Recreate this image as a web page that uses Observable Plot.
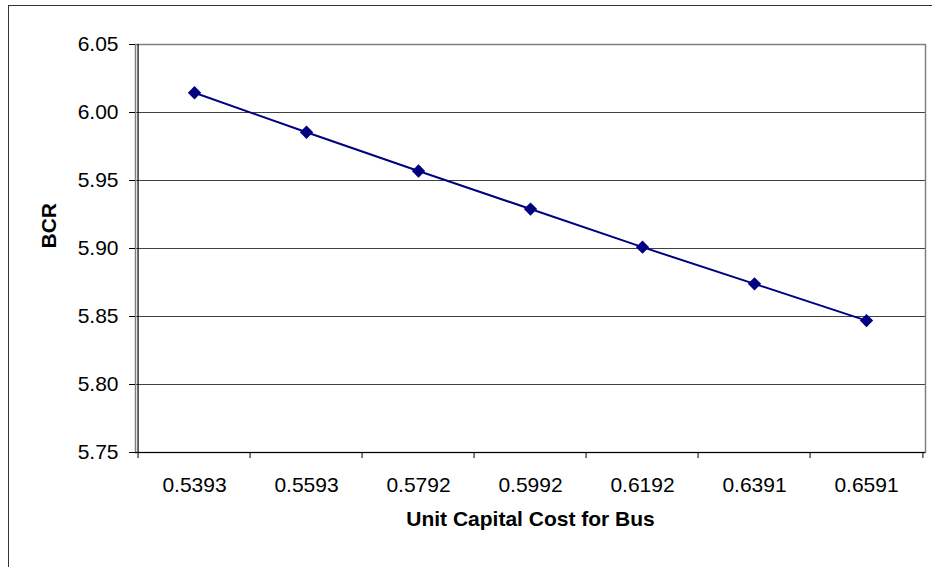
<!DOCTYPE html>
<html><head><meta charset="utf-8">
<script src="https://cdn.jsdelivr.net/npm/d3@7"></script>
<script src="https://cdn.jsdelivr.net/npm/@observablehq/plot@0.6"></script>
<style>
html,body{margin:0;padding:0;background:#fff;}
#wrap{position:relative;width:932px;height:567px;overflow:hidden;}
#border{position:absolute;left:8px;top:5px;width:1000px;height:700px;border:1.5px solid #333;box-sizing:border-box;}
#chart{position:absolute;left:0;top:0;}
</style></head><body>
<div id="wrap"><div id="border"></div><div id="chart"></div></div>
<script>
const categories = ["0.5393","0.5593","0.5792","0.5992","0.6192","0.6391","0.6591"];
const bcr = [6.0145, 5.9855, 5.957, 5.929, 5.901, 5.874, 5.847];
const yTicks = [5.75, 5.80, 5.85, 5.90, 5.95, 6.00, 6.05];
const xTitle = "Unit Capital Cost for Bus";
const yTitle = "BCR";

const data = categories.map((c, i) => ({cost: c, bcr: bcr[i]}));
const W = 932, H = 567, mL = 135, mR = 7, mT = 44, mB = 115;
const step = (W - mL - mR) / categories.length;
const font = "'Liberation Sans', Arial, sans-serif";

const plot = Plot.plot({
  width: W, height: H,
  marginLeft: mL, marginRight: mR, marginTop: mT, marginBottom: mB,
  style: {fontFamily: font, fontSize: "21px", color: "#000", background: "transparent", overflow: "visible"},
  x: {type: "band", domain: categories, padding: 0, align: 0.5},
  y: {domain: [yTicks[0], yTicks[yTicks.length - 1]]},
  marks: [
    Plot.ruleY(yTicks.slice(1, -1), {stroke: "#404040", strokeWidth: 1}),
    Plot.frame({stroke: "#808080", strokeWidth: 1.5}),
    Plot.ruleY([yTicks[0]], {stroke: "#000", strokeWidth: 1.2}),
    Plot.ruleX([categories[0]], {y1: yTicks[0], y2: yTicks[yTicks.length - 1], dx: -step / 2, stroke: "#000", strokeWidth: 1.2}),
    Plot.axisY(yTicks, {tickFormat: d3.format(".2f"), tickSize: 6, tickPadding: 11, stroke: "#000", label: null, fill: "#000"}),
    Plot.axisX(categories, {tickSize: 0, tickPadding: 25, label: null, fill: "#000"}),
    Plot.axisX(categories, {tickSize: 6, tickFormat: () => "", dx: -step / 2, label: null, stroke: "#000"}),
    Plot.axisX([categories[categories.length - 1]], {tickSize: 6, tickFormat: () => "", dx: step / 2, label: null, stroke: "#000"}),
    Plot.line(data, {x: "cost", y: "bcr", stroke: "#000080", strokeWidth: 2}),
    Plot.dot(data, {x: "cost", y: "bcr", symbol: "diamond2", r: 6, fill: "#000080", stroke: "none"}),
    Plot.text([yTitle], {frameAnchor: "left", rotate: -90, dx: -86.5, fontWeight: "bold", fontSize: 21, fill: "#000"}),
    Plot.text([xTitle], {frameAnchor: "bottom", dy: 73.5, fontWeight: "bold", fontSize: 21, fill: "#000"})
  ]
});
document.getElementById("chart").appendChild(plot);
</script>
</body></html>
